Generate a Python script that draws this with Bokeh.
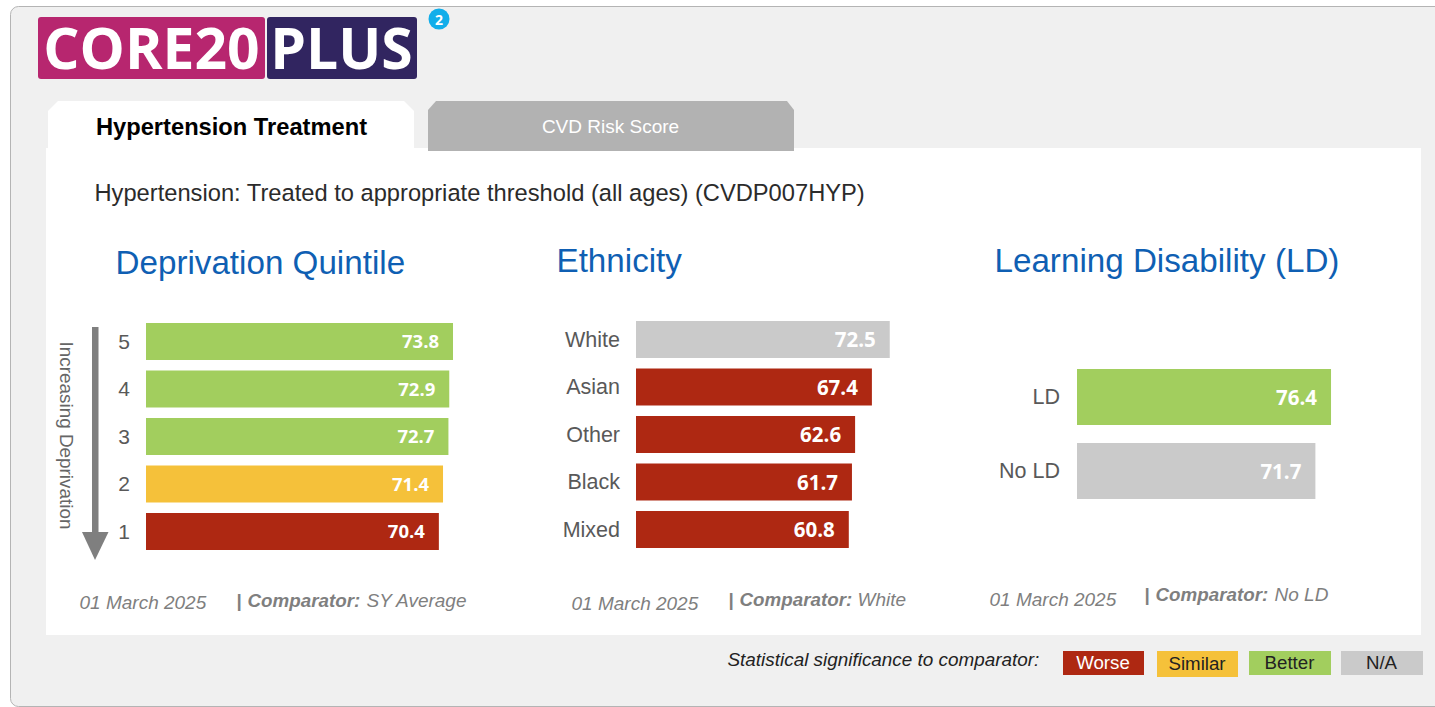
from bokeh.plotting import figure
from bokeh.models import Range1d, ColumnDataSource
from bokeh.core.properties import value
from bokeh.embed import file_html
from bokeh.resources import INLINE

dep_labels = ["5", "4", "3", "2", "1"]
dep_values = [73.8, 72.9, 72.7, 71.4, 70.4]
dep_status = ["Better", "Better", "Better", "Similar", "Worse"]

eth_labels = ["White", "Asian", "Other", "Black", "Mixed"]
eth_values = [72.5, 67.4, 62.6, 61.7, 60.8]
eth_status = ["N/A", "Worse", "Worse", "Worse", "Worse"]

ld_labels = ["LD", "No LD"]
ld_values = [76.4, 71.7]
ld_status = ["Better", "N/A"]

legend_labels = ["Worse", "Similar", "Better", "N/A"]

COL = {"Worse": "#AE2812", "Similar": "#F5C13A", "Better": "#A2CE5E", "N/A": "#CACACA"}
SANS = "Liberation Sans"
OPEN = "Open Sans"
L, T, W, H = 0.5, 0.5, 1435, 707

p = figure(width=W, height=H, x_range=Range1d(L, L + W), y_range=Range1d(T + H, T),
           output_backend="svg", toolbar_location=None, min_border=0,
           background_fill_color="#FFFFFF", border_fill_color="#FFFFFF", outline_line_color=None)
p.xaxis.visible = False
p.yaxis.visible = False
p.grid.visible = False


def label(x, y, s, size, color="#333333", font=SANS, style="normal", align="left", angle=0):
    p.text(x=[x - 0.5], y=[y - 0.5], text=[s], text_font=value(font), text_font_size=f"{size}px",
           text_font_style=style, text_color=color, text_align=align,
           text_baseline="middle", angle=angle)


def box(x0, x1, y0, y1, color, radius=0, line=None):
    p.quad(left=[x0], right=[x1], top=[y0], bottom=[y1], fill_color=color,
           line_color=line, border_radius=radius)


# panel
box(10.5, 1445, 6.5, 706.5, "#F0F0F0", radius=8, line="#B4B4B4")
box(46, 1421, 148, 635, "#FFFFFF")

# logo
box(38, 265, 17, 79, "#B7266F", radius=3)
box(267, 417, 17, 79, "#312560", radius=3)
label(152, 47.5, "CORE20", 57, "#FFFFFF", OPEN, "bold", "center")
label(342, 47.5, "PLUS", 57, "#FFFFFF", OPEN, "bold", "center")
p.scatter(x=[439], y=[19], size=21, marker="circle", fill_color="#12AEEA", line_color=None)
label(439.5, 20, "2", 14, "#FFFFFF", OPEN, "bold", "center")

# tabs
p.patch(x=[48, 48, 58, 404, 414, 414], y=[149, 111, 101, 101, 111, 149], fill_color="#FFFFFF", line_color=None)
p.patch(x=[428, 428, 436, 787, 794, 794], y=[151, 110, 101, 101, 110, 151], fill_color="#B2B2B2", line_color=None)
label(232, 127, "Hypertension Treatment", 23.7, "#000000", SANS, "bold", "center")
label(611, 126.5, "CVD Risk Score", 19, "#FFFFFF", SANS, "normal", "center")
label(95, 193, "Hypertension: Treated to appropriate threshold (all ages) (CVDP007HYP)", 23.7, "#2B2B2B")

# headings
label(116, 263, "Deprivation Quintile", 33.2, "#0F5FB3")
label(557, 261, "Ethnicity", 33.2, "#0F5FB3")
label(995, 261, "Learning Disability (LD)", 33.2, "#0F5FB3")


def panel(name, labels, values, status, x0, scale, y0, step, bar_h, lab_x, lab_size, val_size):
    # the chart's own scales: value -> pixel and row index -> pixel
    p.extra_x_ranges[name] = Range1d((L - x0) / scale, (L + W - x0) / scale)
    p.extra_y_ranges[name] = Range1d((T + H - y0) / step, (T - y0) / step)
    rows = list(range(len(labels)))
    src = ColumnDataSource(dict(
        row=rows, val=values, lab=labels, zero=[0] * len(rows),
        txt=[f"{v:.1f}" for v in values], col=[COL[s] for s in status]))
    p.hbar(y="row", left="zero", right="val", height=bar_h / step, fill_color="col",
           line_color=None, source=src, x_range_name=name, y_range_name=name)
    p.text(x="val", y="row", text="txt", x_offset=-14, text_align="right", text_baseline="middle",
           text_font=value(OPEN), text_font_style="bold", text_font_size=f"{val_size}px",
           text_color="#FFFFFF", source=src, x_range_name=name, y_range_name=name)
    p.text(x="zero", y="row", text="lab", x_offset=lab_x - x0, text_align="right", text_baseline="middle",
           text_font=value(SANS), text_font_size=f"{lab_size}px", text_color="#595959",
           source=src, x_range_name=name, y_range_name=name)


panel("dep", dep_labels, dep_values, dep_status, 146, 4.16, 341.5, 47.5, 37, 130, 21, 18.5)
panel("eth", eth_labels, eth_values, eth_status, 636, 3.50, 339.5, 47.5, 37, 620, 21.5, 20.5)
panel("ld", ld_labels, ld_values, ld_status, 1077, 3.325, 397, 74, 56, 1060, 21.5, 20.5)

# arrow
p.quad(left=[92], right=[98.5], top=[327], bottom=[534], fill_color="#7F7F7F", line_color=None)
p.patch(x=[82, 108.5, 95], y=[532, 532, 560], fill_color="#7F7F7F", line_color=None)
label(67, 436, "Increasing Deprivation", 18.9, "#666666", SANS, align="center", angle=-1.5708)

# footers
FOOT = "#7F7F7F"
for dx, dy, sep, tag, tail, tail_x, sep_x in [
    (80, 603, 601, "Comparator:", "SY Average", 367, 237),
    (572, 604, 600, "Comparator:", "White", 858, 729),
    (990, 600, 595, "Comparator:", "No LD", 1275, 1145),
]:
    label(dx, dy, "01 March 2025", 19, FOOT, SANS, "italic")
    label(sep_x, sep, "|", 19, FOOT, SANS, "bold")
    label(sep_x + 11, sep, tag, 18.8, FOOT, SANS, "bold italic")
    label(tail_x, sep, tail, 19, FOOT, SANS, "italic")

# significance legend
label(728, 659.5, "Statistical significance to comparator:", 18.9, "#222222", SANS, "italic")
for name, x0, x1, y0, y1, tc in zip(legend_labels,
                                    [1063, 1157, 1249, 1341], [1144, 1238, 1331, 1423],
                                    [651, 651, 651, 651], [675, 677, 675, 675],
                                    ["#FFFFFF", "#222222", "#222222", "#222222"]):
    box(x0, x1, y0, y1, COL[name])
    label((x0 + x1) / 2, (y0 + y1) / 2, name, 18.7, tc, SANS, "normal", "center")

open("out.html", "w").write(file_html(p, INLINE))
